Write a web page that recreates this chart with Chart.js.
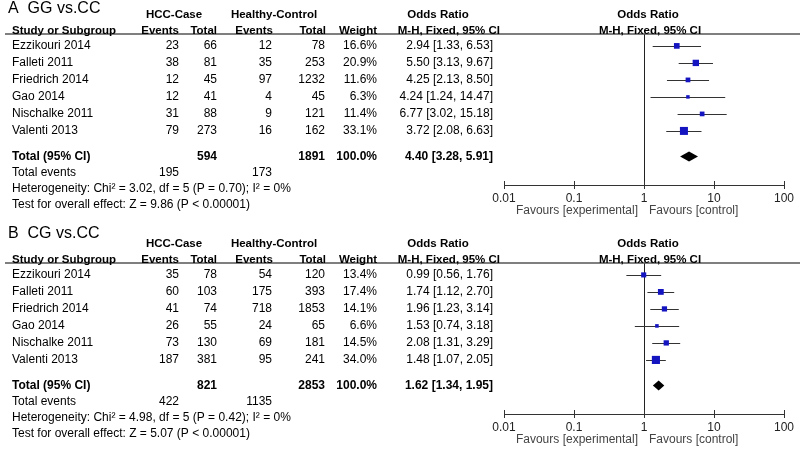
<!DOCTYPE html>
<html>
<head>
<meta charset="utf-8">
<script src="https://cdn.jsdelivr.net/npm/chart.js@4.4.0/dist/chart.umd.min.js"></script>
<style>
    body { margin:0; background:#fff; width:800px; height:451px; overflow:hidden; position:relative; }
    .panel { position:absolute; left:0; width:800px; height:240px; }
</style>
</head>
<body>

<div class="panel" style="top:-10px"><canvas id="panelA" width="800" height="240"></canvas></div>
<div class="panel" style="top:219px"><canvas id="panelB" width="800" height="240"></canvas></div>

<script>

// ==========================================
// Data
// ==========================================

const studies = ["Ezzikouri 2014", "Falleti 2011", "Friedrich 2014", "Gao 2014", "Nischalke 2011", "Valenti 2013"];
const tickValues = [0.01, 0.1, 1, 10, 100];

// A  GG vs.CC
const ggCaseEvents = [23, 38, 12, 12, 31, 79];
const ggCaseTotal  = [66, 81, 45, 41, 88, 273];
const ggCtrlEvents = [12, 35, 97, 4, 9, 16];
const ggCtrlTotal  = [78, 253, 1232, 45, 121, 162];
const ggWeight     = [16.6, 20.9, 11.6, 6.3, 11.4, 33.1];
const ggOR         = [2.94, 5.50, 4.25, 4.24, 6.77, 3.72];
const ggLow        = [1.33, 3.13, 2.13, 1.24, 3.02, 2.08];
const ggHigh       = [6.53, 9.67, 8.50, 14.47, 15.18, 6.63];
const ggPooled     = [4.40, 3.28, 5.91];
const ggTotals     = [594, 1891];
const ggEvents     = [195, 173];
const ggHet        = "Heterogeneity: Chi² = 3.02, df = 5 (P = 0.70); I² = 0%";
const ggTest       = "Test for overall effect: Z = 9.86 (P < 0.00001)";

// B  CG vs.CC
const cgCaseEvents = [35, 60, 41, 26, 73, 187];
const cgCaseTotal  = [78, 103, 74, 55, 130, 381];
const cgCtrlEvents = [54, 175, 718, 24, 69, 95];
const cgCtrlTotal  = [120, 393, 1853, 65, 181, 241];
const cgWeight     = [13.4, 17.4, 14.1, 6.6, 14.5, 34.0];
const cgOR         = [0.99, 1.74, 1.96, 1.53, 2.08, 1.48];
const cgLow        = [0.56, 1.12, 1.23, 0.74, 1.31, 1.07];
const cgHigh       = [1.76, 2.70, 3.14, 3.18, 3.29, 2.05];
const cgPooled     = [1.62, 1.34, 1.95];
const cgTotals     = [821, 2853];
const cgEvents     = [422, 1135];
const cgHet        = "Heterogeneity: Chi² = 4.98, df = 5 (P = 0.42); I² = 0%";
const cgTest       = "Test for overall effect: Z = 5.07 (P < 0.00001)";


// ==========================================
// Forest panel
// ==========================================

const FONT = "'Liberation Sans', Arial, sans-serif";
const BLUE = "#1414c0";

function fmt(v){
    return v.toFixed(2);
}

function makePanel(id, p){

    const tablePlugin = {

        id: "forestTable",

        beforeDatasetsDraw(chart){

            const ctx = chart.ctx;
            const xs = chart.scales.x;
            const ys = chart.scales.y;
            const area = chart.chartArea;

            ctx.save();

            // line of no effect
            ctx.strokeStyle = "#222";
            ctx.lineWidth = 1;
            ctx.beginPath();
            ctx.moveTo(Math.round(xs.getPixelForValue(1)) + 0.5, area.top);
            ctx.lineTo(Math.round(xs.getPixelForValue(1)) + 0.5, area.bottom);
            ctx.stroke();

            // confidence intervals
            ctx.strokeStyle = "#333";
            p.low.forEach((lo, i) => {
                const y = Math.round(ys.getPixelForValue(i)) + 0.5;
                ctx.beginPath();
                ctx.moveTo(xs.getPixelForValue(lo), y);
                ctx.lineTo(xs.getPixelForValue(p.high[i]), y);
                ctx.stroke();
            });

            ctx.restore();
        },

        afterDraw(chart){

            const ctx = chart.ctx;
            const xs = chart.scales.x;
            const ys = chart.scales.y;
            const area = chart.chartArea;
            const row = v => ys.getPixelForValue(v);

            ctx.save();

            // header rule
            ctx.strokeStyle = "#555";
            ctx.lineWidth = 1.5;
            ctx.beginPath();
            ctx.moveTo(5, area.top);
            ctx.lineTo(800, area.top);
            ctx.stroke();

            // axis tick marks
            ctx.strokeStyle = "#333";
            ctx.lineWidth = 1;
            tickValues.forEach(v => {
                const x = Math.round(xs.getPixelForValue(v)) + 0.5;
                ctx.beginPath();
                ctx.moveTo(x, area.bottom - 4);
                ctx.lineTo(x, area.bottom + 4);
                ctx.stroke();
            });

            // pooled diamond
            const dy = row(p.totalRow);
            ctx.fillStyle = "#000";
            ctx.beginPath();
            ctx.moveTo(xs.getPixelForValue(p.pooled[1]), dy);
            ctx.lineTo(xs.getPixelForValue(p.pooled[0]), dy - 5);
            ctx.lineTo(xs.getPixelForValue(p.pooled[2]), dy);
            ctx.lineTo(xs.getPixelForValue(p.pooled[0]), dy + 5);
            ctx.closePath();
            ctx.fill();

            ctx.textBaseline = "middle";

            const text = (s, x, y, align, font, color) => {
                ctx.font = font;
                ctx.textAlign = align;
                ctx.fillStyle = color || "#000";
                ctx.fillText(s, x, y);
            };

            const reg = "12px " + FONT;
            const bold = "bold 11.5px " + FONT;
            const boldRow = "bold 12px " + FONT;

            // titles
            text(p.title, 8, row(p.titleRow), "left", "16px " + FONT);
            text("HCC-Case", 174, row(-1.85), "center", bold);
            text("Healthy-Control", 274, row(-1.85), "center", bold);
            text("Odds Ratio", 438, row(-1.85), "center", bold);
            text("Odds Ratio", 648, row(-1.85), "center", bold);

            const hy = row(-0.9);
            text("Study or Subgroup", 12, hy, "left", bold);
            text("Events", 179, hy, "right", bold);
            text("Total", 217, hy, "right", bold);
            text("Events", 273, hy, "right", bold);
            text("Total", 326, hy, "right", bold);
            text("Weight", 377, hy, "right", bold);
            text("M-H, Fixed, 95% CI", 500, hy, "right", bold);
            text("M-H, Fixed, 95% CI", 650, hy, "center", bold);

            // study rows
            studies.forEach((s, i) => {
                const y = row(i);
                text(s, 12, y, "left", reg);
                text(String(p.caseEvents[i]), 179, y, "right", reg);
                text(String(p.caseTotal[i]), 217, y, "right", reg);
                text(String(p.ctrlEvents[i]), 272, y, "right", reg);
                text(String(p.ctrlTotal[i]), 325, y, "right", reg);
                text(p.weight[i].toFixed(1) + "%", 377, y, "right", reg);
                text(fmt(p.or[i]) + " [" + fmt(p.low[i]) + ", " + fmt(p.high[i]) + "]", 493, y, "right", reg);
            });

            // totals
            const ty = row(p.totalRow);
            text("Total (95% CI)", 12, ty, "left", boldRow);
            text(String(p.totals[0]), 217, ty, "right", boldRow);
            text(String(p.totals[1]), 325, ty, "right", boldRow);
            text("100.0%", 377, ty, "right", boldRow);
            text(fmt(p.pooled[0]) + " [" + fmt(p.pooled[1]) + ", " + fmt(p.pooled[2]) + "]", 493, ty, "right", boldRow);

            const ey = row(p.totalRow + 0.95);
            text("Total events", 12, ey, "left", reg);
            text(String(p.events[0]), 179, ey, "right", reg);
            text(String(p.events[1]), 272, ey, "right", reg);

            text(p.het, 12, row(p.totalRow + 1.9), "left", reg);
            text(p.test, 12, row(p.totalRow + 2.85), "left", reg);

            // favours labels
            const x1 = xs.getPixelForValue(1);
            text("Favours [experimental]", x1 - 6, area.bottom + 26, "right", reg, "#444");
            text("Favours [control]", x1 + 5, area.bottom + 26, "left", reg, "#444");

            ctx.restore();
        }
    };

    new Chart(document.getElementById(id), {

        type: "scatter",

        data: {
            datasets: [{
                data: p.or.map((v, i) => ({ x: v, y: i })),
                pointStyle: "rect",
                pointRadius: p.weight.map(w => 5.66 * Math.sqrt(w / 33.1)),
                pointBackgroundColor: BLUE,
                pointBorderWidth: 0,
                clip: false
            }]
        },

        options: {

            responsive: false,
            animation: false,
            events: [],

            layout: {
                padding: { left: 504, right: 9, top: 44, bottom: 0 }
            },

            scales: {
                x: {
                    type: "logarithmic",
                    min: 0.01,
                    max: 100,
                    afterBuildTicks(scale){
                        scale.ticks = tickValues.map(v => ({ value: v }));
                    },
                    afterFit(scale){
                        scale.height = 45;
                    },
                    grid: { display: false, drawTicks: false },
                    border: { display: true, color: "#333", width: 1 },
                    ticks: {
                        padding: 6,
                        maxRotation: 0,
                        autoSkip: false,
                        color: "#222",
                        font: { family: FONT, size: 12 },
                        callback: v => String(v)
                    }
                },
                y: {
                    type: "linear",
                    display: false,
                    reverse: true,
                    min: -0.7,
                    max: 8.18
                }
            },

            plugins: {
                legend: { display: false },
                tooltip: { enabled: false }
            }
        },

        plugins: [tablePlugin]
    });
}

makePanel("panelA", {
    title: "A  GG vs.CC", titleRow: -2.2,
    caseEvents: ggCaseEvents, caseTotal: ggCaseTotal,
    ctrlEvents: ggCtrlEvents, ctrlTotal: ggCtrlTotal,
    weight: ggWeight, or: ggOR, low: ggLow, high: ggHigh,
    pooled: ggPooled, totals: ggTotals, events: ggEvents,
    het: ggHet, test: ggTest, totalRow: 6.5
});

makePanel("panelB", {
    title: "B  CG vs.CC", titleRow: -2.4,
    caseEvents: cgCaseEvents, caseTotal: cgCaseTotal,
    ctrlEvents: cgCtrlEvents, ctrlTotal: cgCtrlTotal,
    weight: cgWeight, or: cgOR, low: cgLow, high: cgHigh,
    pooled: cgPooled, totals: cgTotals, events: cgEvents,
    het: cgHet, test: cgTest, totalRow: 6.5
});

</script>
</body>
</html>
